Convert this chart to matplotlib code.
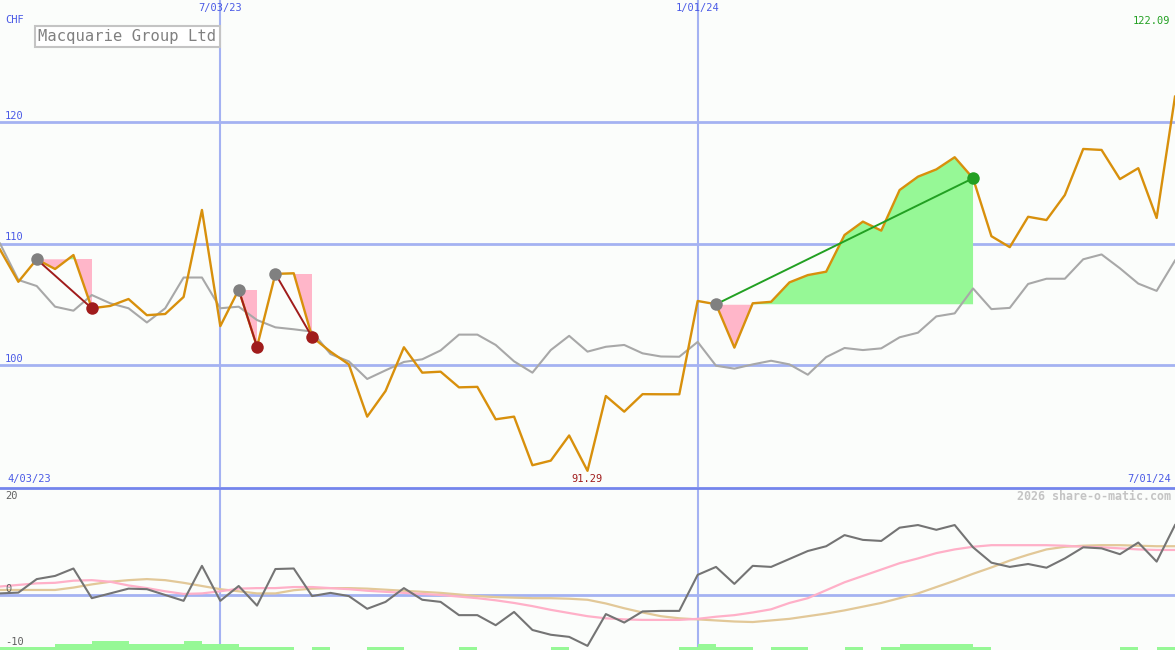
import numpy as np
import matplotlib
matplotlib.use("Agg")
import matplotlib.pyplot as plt

# weekly closes (CHF), Macquarie Group Ltd
price = [109.5, 106.85, 108.7, 107.9, 109.05, 104.67, 104.86, 105.43, 104.1, 104.2,
         105.6, 112.76, 103.2, 106.2, 101.5, 107.5, 107.55, 102.3, 101.1, 100.05,
         95.75, 97.86, 101.46, 99.37, 99.45, 98.16, 98.2, 95.53, 95.75, 91.75,
         92.13, 94.2, 91.29, 97.45, 96.16, 97.6, 97.59, 97.59, 105.27, 105.0,
         101.43, 105.08, 105.2, 106.8, 107.4, 107.68, 110.7, 111.8, 111.06, 114.4,
         115.5, 116.1, 117.1, 115.37, 110.6, 109.7, 112.2, 111.93, 113.99, 117.78,
         117.7, 115.3, 116.2, 112.1, 122.09]

# comparison index, rebased
index_line = [110.0, 107.0, 106.5, 104.8, 104.47, 105.76, 105.08, 104.67, 103.5, 104.67,
              107.2, 107.2, 104.67, 104.8, 103.7, 103.1, 102.94, 102.75, 100.9, 100.3,
              98.85, 99.56, 100.25, 100.47, 101.2, 102.5, 102.5, 101.65, 100.3, 99.37,
              101.23, 102.4, 101.1, 101.5, 101.65, 100.96, 100.7, 100.68, 101.9, 99.94,
              99.7, 100.05, 100.35, 100.05, 99.2, 100.65, 101.4, 101.23, 101.37, 102.28,
              102.66, 104.0, 104.25, 106.3, 104.6, 104.7, 106.67, 107.1, 107.1, 108.7,
              109.1, 107.96, 106.7, 106.1, 108.6]

# lower panel
rel = [0.3, 0.45, 3.0, 3.6, 5.0, -0.6, 0.3, 1.2, 1.1, 0.0,
       -1.1, 5.5, -1.1, 1.7, -2.0, 4.9, 5.0, -0.2, 0.4, -0.2,
       -2.6, -1.3, 1.3, -0.9, -1.3, -3.8, -3.8, -5.7, -3.2, -6.6,
       -7.5, -7.9, -9.6, -3.6, -5.2, -3.1, -3.0, -3.0, 3.8, 5.3,
       2.1, 5.5, 5.3, 6.8, 8.3, 9.2, 11.3, 10.4, 10.2, 12.7,
       13.2, 12.3, 13.2, 9.0, 6.1, 5.3, 5.85, 5.15, 6.9, 9.0,
       8.8, 7.7, 9.9, 6.3, 13.2]
avg_fast = [1.6, 1.9, 2.2, 2.3, 2.7, 2.8, 2.5, 1.8, 1.3, 0.7,
            0.2, 0.3, 0.7, 1.2, 1.3, 1.3, 1.5, 1.5, 1.3, 1.1,
            0.8, 0.6, 0.4, 0.2, 0.0, -0.3, -0.6, -1.0, -1.5, -2.1,
            -2.8, -3.4, -4.0, -4.4, -4.6, -4.7, -4.7, -4.7, -4.5, -4.1,
            -3.8, -3.3, -2.7, -1.5, -0.6, 0.9, 2.4, 3.6, 4.8, 6.0,
            6.9, 7.9, 8.6, 9.1, 9.4, 9.4, 9.4, 9.4, 9.3, 9.1,
            9.0, 8.8, 8.6, 8.5, 8.5]
avg_slow = [0.95, 0.95, 0.95, 0.95, 1.4, 2.0, 2.5, 2.8, 3.0, 2.8,
            2.3, 1.7, 1.1, 0.7, 0.3, 0.3, 0.9, 1.2, 1.3, 1.3,
            1.2, 1.0, 0.8, 0.6, 0.4, 0.1, -0.2, -0.4, -0.5, -0.6,
            -0.6, -0.7, -0.9, -1.6, -2.5, -3.3, -4.0, -4.4, -4.6, -4.8,
            -5.0, -5.1, -4.8, -4.5, -4.0, -3.5, -2.9, -2.2, -1.5, -0.6,
            0.3, 1.5, 2.7, 4.0, 5.2, 6.5, 7.6, 8.6, 9.1, 9.3,
            9.4, 9.4, 9.3, 9.2, 9.2]
bar_level = [1, 1, 1, 2, 2, 3, 3, 2, 2, 2,
             3, 2, 2, 1, 1, 1, 0, 1, 0, 0,
             1, 1, 0, 0, 0, 1, 0, 0, 0, 0,
             1, 0, 0, 0, 0, 0, 0, 1, 2, 1,
             1, 0, 1, 1, 0, 0, 1, 0, 1, 2,
             2, 2, 2, 1, 0, 0, 0, 0, 0, 0,
             0, 1, 0, 1, 0]

# signals: (entry week, exit week)
trades = [(2, 5), (13, 14), (15, 17), (39, 53)]

date_ticks = [12, 38]
date_labels = ["7/03/23", "1/01/24"]
start_label = "4/03/23"
end_label = "7/01/24"

x = np.arange(len(price))
price = np.array(price)

bg = "#fbfdfb"
grid_c = "#a4b2f2"
blue_txt = "#4a5ae6"
fnt = "DejaVu Sans Mono"

W, H = 1175, 650
fig = plt.figure(figsize=(W / 100, H / 100), dpi=100, facecolor=bg)
ax = fig.add_axes([0, 163 / H, 1, 487 / H])
ax2 = fig.add_axes([0, 0, 1, 161 / H])
for a in (ax, ax2):
    a.set_facecolor(bg)
    a.set_xlim(0, len(price) - 1)
    a.axis("off")
    for t in date_ticks:
        a.axvline(t, color=grid_c, lw=1.5, zorder=1)

ax.set_ylim(120 - 365 / 12.15, 120 + 122 / 12.15)
for lvl in [100, 110, 120]:
    ax.axhline(lvl, color=grid_c, lw=2, zorder=1)
    ax.text(5 / W * 64, lvl + 0.12, str(lvl), color=blue_txt, fontsize=7.5,
            family=fnt, va="bottom", ha="left")

# trade fills
for a_i, b_i in trades:
    xs = x[a_i:b_i + 1]
    ys = price[a_i:b_i + 1]
    entry = price[a_i]
    ax.fill_between(xs, entry, ys, where=ys >= entry, interpolate=True,
                    color="#96f896", lw=0, zorder=2)
    ax.fill_between(xs, entry, ys, where=ys < entry, interpolate=True,
                    color="#ffb6c9", lw=0, zorder=2)

ax.plot(x, index_line, color="#a8a8a8", lw=1.5, zorder=3)
ax.plot(x, price, color="#d8900c", lw=1.7, zorder=4)

for a_i, b_i in trades:
    win = price[b_i] > price[a_i]
    c = "#22a022" if win else "#a01c1c"
    ax.plot([a_i, b_i], [price[a_i], price[b_i]], color=c, lw=1.4, zorder=5)
    ax.plot(a_i, price[a_i], "o", color="#808080", ms=9, mec="none", zorder=6)
    ax.plot(b_i, price[b_i], "o", color=c, ms=9, mec="none", zorder=6)

# texts main panel
def ftext(px, py, s, **kw):
    fig.text(px / W, 1 - py / H, s, family=fnt, **kw)

ftext(5, 20, "CHF", color=blue_txt, fontsize=7.5, va="center")
for t, lab in zip(date_ticks, date_labels):
    ftext(t * W / 64, 8, lab, color=blue_txt, fontsize=7.5, va="center", ha="center")
ftext(1170, 21, "%.2f" % price[-1], color="#22a022", fontsize=7.5, va="center", ha="right")
lo = int(np.argmin(price))
ftext(lo * W / 64, 479, "%.2f" % price[lo], color="#a01c1c", fontsize=7.5,
      va="center", ha="center")
ftext(7, 479, start_label, color=blue_txt, fontsize=7.5, va="center")
ftext(1171, 479, end_label, color=blue_txt, fontsize=7.5, va="center", ha="right")
ftext(38, 36.5, "Macquarie Group Ltd", color="#808080", fontsize=11.2, va="center",
      bbox=dict(boxstyle="square,pad=0.22", fc="white", ec="#c4c4c4", lw=1.5))
ftext(1171, 496, "2026 share-o-matic.com", color="#c4c4c4", fontsize=8.4,
      va="center", ha="right", weight="bold")

# separator
fig.add_artist(plt.Line2D([0, 1], [1 - 487.5 / H] * 2, color="#7485ec", lw=2,
                          transform=fig.transFigure))

# lower panel
ax2.set_ylim(-55 / 5.3, 106 / 5.3)
ax2.axhline(0, color=grid_c, lw=2, zorder=1)
ax2.plot(x, avg_slow, color="#e2c898", lw=1.6, zorder=3)
ax2.plot(x, avg_fast, color="#ffb0c8", lw=1.6, zorder=3)
ax2.plot(x, rel, color="#747474", lw=1.5, zorder=4)
ftext(5, 496, "20", color="#606060", fontsize=7.5, va="center")
ftext(5, 589, "0", color="#606060", fontsize=7.5, va="center")
ftext(5, 642, "-10", color="#606060", fontsize=7.5, va="center")

axb = ax2.twinx()
axb.set_ylim(0, 161 / 3)
axb.set_xlim(0, len(price) - 1)
axb.axis("off")
axb.bar(x, bar_level, width=1.0, align="edge", color="#96f896", lw=0, zorder=2)

fig.savefig("out.png", dpi=100, facecolor=bg)
